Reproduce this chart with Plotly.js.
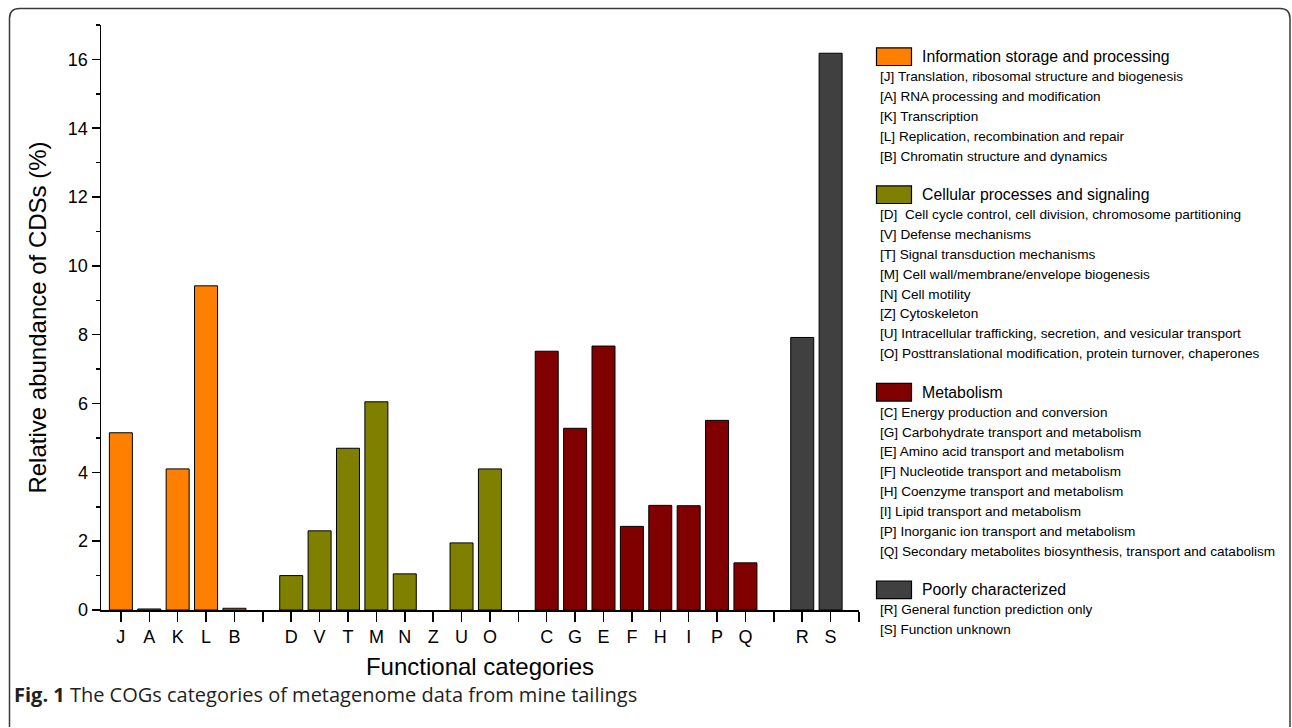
<!DOCTYPE html>
<html>
<head>
<meta charset="utf-8">
<script src="https://cdn.plot.ly/plotly-3.0.1.min.js"></script>
<style>html,body{margin:0;padding:0;background:#fff;}#chart{width:1292px;height:728px;}</style>
</head>
<body>
<div id="chart"></div>
<script>
// ---- data ----
const categories = ['J','A','K','L','B','','D','V','T','M','N','Z','U','O','','C','G','E','F','H','I','P','Q','','R','S',''];
const groupNames = ['Information storage and processing','Cellular processes and signaling','Metabolism','Poorly characterized'];
const groupColors = ['#FF8000','#808000','#800000','#404040'];
const groupLetters = [
  ['J','A','K','L','B'],
  ['D','V','T','M','N','Z','U','O'],
  ['C','G','E','F','H','I','P','Q'],
  ['R','S']
];
const infoValues = [5.15, 0.03, 4.1, 9.42, 0.05];
const cellularValues = [1.0, 2.3, 4.7, 6.05, 1.05, 0, 1.95, 4.1];
const metabolismValues = [7.52, 5.28, 7.67, 2.43, 3.04, 3.03, 5.51, 1.37];
const poorlyValues = [7.92, 16.18];
const groupValues = [infoValues, cellularValues, metabolismValues, poorlyValues];
const descriptions = [
  ['[J] Translation, ribosomal structure and biogenesis','[A] RNA processing and modification','[K] Transcription','[L] Replication, recombination and repair','[B] Chromatin structure and dynamics'],
  ['[D]  Cell cycle control, cell division, chromosome partitioning','[V] Defense mechanisms','[T] Signal transduction mechanisms','[M] Cell wall/membrane/envelope biogenesis','[N] Cell motility','[Z] Cytoskeleton','[U] Intracellular trafficking, secretion, and vesicular transport','[O] Posttranslational modification, protein turnover, chaperones'],
  ['[C] Energy production and conversion','[G] Carbohydrate transport and metabolism','[E] Amino acid transport and metabolism','[F] Nucleotide transport and metabolism','[H] Coenzyme transport and metabolism','[I] Lipid transport and metabolism','[P] Inorganic ion transport and metabolism','[Q] Secondary metabolites biosynthesis, transport and catabolism'],
  ['[R] General function prediction only','[S] Function unknown']
];
const yTitle = 'Relative abundance of CDSs (%)';
const xTitle = 'Functional categories';
const captionBold = 'Fig. 1';
const captionText = ' The COGs categories of metagenome data from mine tailings';

// ---- layout geometry (pixels) ----
const W = 1292, H = 728;
const L = 101, R = 859, T = 25, B = 610;
const PX = x => (x - L) / (R - L);
const PY = y => (B - y) / (B - T);
const FONT = 'Liberation Sans';

const traces = groupLetters.map((letters, g) => ({
  type: 'bar',
  name: groupNames[g],
  x: letters.map(l => categories.indexOf(l)),
  y: groupValues[g],
  width: 0.81,
  marker: {color: groupColors[g], line: {color: '#000', width: groupValues[g].map(v => v > 0 ? 1 : 0)}},
  showlegend: false,
  hoverinfo: 'x+y'
}));

const annotations = [];
const shapes = [];
let y = 56.7;
const step = 19.85;
groupNames.forEach((name, g) => {
  shapes.push({type:'rect', xref:'paper', yref:'paper',
    x0: PX(876.5), x1: PX(911.5), y0: PY(y - 8.8), y1: PY(y + 8.8),
    fillcolor: groupColors[g], line:{color:'#000', width:1.2}});
  annotations.push({xref:'paper', yref:'paper', x: PX(920), y: PY(y), xanchor:'left', yanchor:'middle',
    text: name, showarrow:false, font:{family:FONT, size:15.8, color:'#000'}});
  let yy = y + 20;
  descriptions[g].forEach((d, i) => {
    annotations.push({xref:'paper', yref:'paper', x: PX(878), y: PY(yy), xanchor:'left', yanchor:'middle',
      text: d, showarrow:false, font:{family:FONT, size:13.6, color:'#000'}});
    if (i < descriptions[g].length - 1) yy += step;
  });
  y = yy + 38.6;
});

// caption
annotations.push({xref:'paper', yref:'paper', x: PX(12), y: PY(694), xanchor:'left', yanchor:'middle',
  text: '<b>' + captionBold + '</b>' + captionText, showarrow:false,
  font:{family:'Open Sans', size:20, color:'#231f20'}});

// frame with rounded corners
const fl = 9.5, ft = 8.5, fr = 1290, fb = 727, rad = 10;
const fpath = 'M ' + PX(fl) + ',' + PY(fb) +
  ' L ' + PX(fl) + ',' + PY(ft + rad) +
  ' Q ' + PX(fl) + ',' + PY(ft) + ' ' + PX(fl + rad) + ',' + PY(ft) +
  ' L ' + PX(fr - rad) + ',' + PY(ft) +
  ' Q ' + PX(fr) + ',' + PY(ft) + ' ' + PX(fr) + ',' + PY(ft + rad) +
  ' L ' + PX(fr) + ',' + PY(fb);
shapes.push({type:'path', xref:'paper', yref:'paper', path: fpath, line:{color:'#3a3a3a', width:1.5}});

const layout = {
  width: W, height: H,
  margin: {l: L, r: W - R, t: T, b: H - B, pad: 0},
  paper_bgcolor: '#fff', plot_bgcolor: '#fff',
  showlegend: false,
  bargap: 0,
  font: {family: FONT, color: '#000'},
  xaxis: {
    range: [-0.7, 26],
    tickmode: 'array',
    tickvals: categories.map((c, i) => i),
    ticktext: categories,
    ticks: 'outside', ticklen: 10, tickwidth: 1.5, tickcolor: '#000',
    showline: true, linecolor: '#000', linewidth: 1.5,
    showgrid: false, zeroline: false,
    tickfont: {size: 18, family: FONT, color:'#000'},
    title: {text: xTitle, font: {size: 24, family: FONT, color:'#000'}, standoff: 12}
  },
  yaxis: {
    range: [0, 17],
    dtick: 2, tick0: 0,
    ticks: 'outside', ticklen: 8, tickwidth: 1.5, tickcolor: '#000',
    minor: {dtick: 1, ticks: 'outside', ticklen: 4, tickwidth: 1.5, tickcolor: '#000', showgrid:false},
    showline: true, linecolor: '#000', linewidth: 1.5,
    showgrid: false, zeroline: false,
    tickfont: {size: 18, family: FONT, color:'#000'},
    title: {text: yTitle, font: {size: 24, family: FONT, color:'#000'}, standoff: 14}
  },
  annotations: annotations,
  shapes: shapes
};

Plotly.newPlot('chart', traces, layout, {staticPlot: true, displayModeBar: false});
</script>
</body>
</html>
